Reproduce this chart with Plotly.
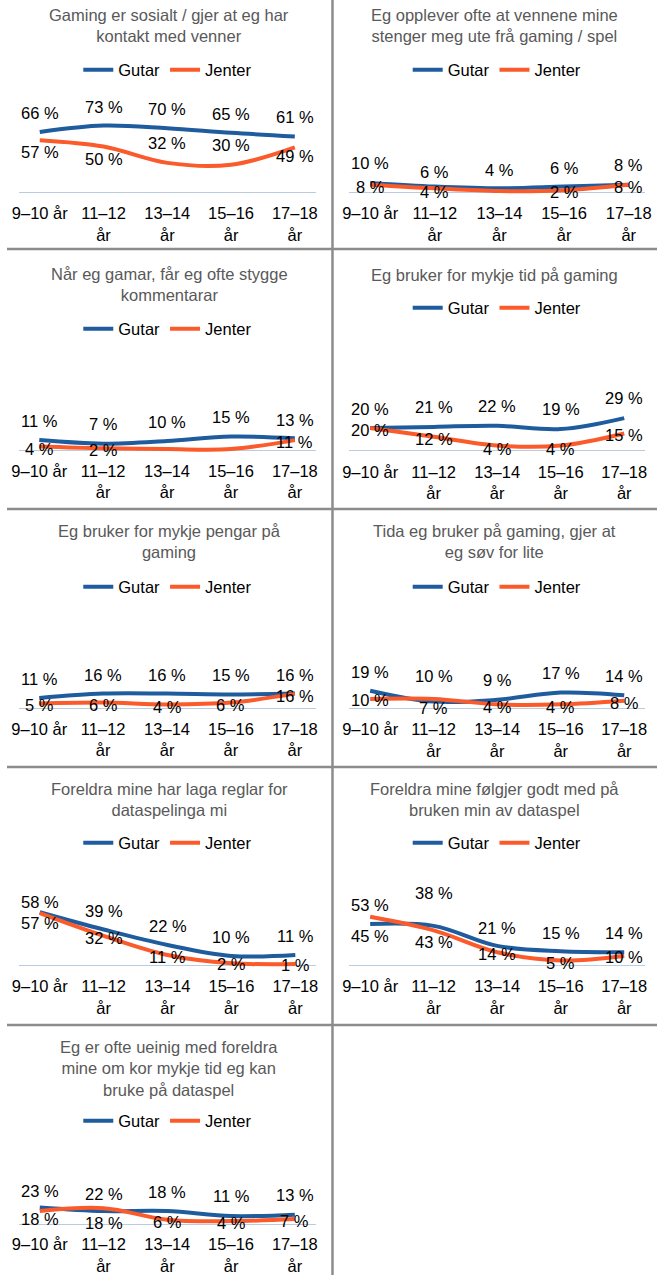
import plotly.graph_objects as go

W, H = 663, 1275

# categories and tick labels
age_groups = ["9–10 år", "11–12 år", "13–14 år", "15–16 år", "17–18 år"]
tick_labels = ["9–10 år", "11–12<br>år", "13–14<br>år", "15–16<br>år", "17–18<br>år"]

titles = [
    "Gaming er sosialt / gjer at eg har<br>kontakt med venner",
    "Eg opplever ofte at vennene mine<br>stenger meg ute frå gaming / spel",
    "Når eg gamar, får eg ofte stygge<br>kommentarar",
    "Eg bruker for mykje tid på gaming",
    "Eg bruker for mykje pengar på<br>gaming",
    "Tida eg bruker på gaming, gjer at<br>eg søv for lite",
    "Foreldra mine har laga reglar for<br>dataspelinga mi",
    "Foreldra mine følgjer godt med på<br>bruken min av dataspel",
    "Eg er ofte ueinig med foreldra<br>mine om kor mykje tid eg kan<br>bruke på dataspel",
]

# percentages per statement
gutar_sosialt = [66, 73, 70, 65, 61]
jenter_sosialt = [57, 50, 32, 30, 49]
gutar_stengt_ute = [10, 6, 4, 6, 8]
jenter_stengt_ute = [8, 4, 1, 2, 8]
gutar_kommentarar = [11, 7, 10, 15, 13]
jenter_kommentarar = [4, 2, 1, 1, 11]
gutar_tid = [20, 21, 22, 19, 29]
jenter_tid = [20, 12, 4, 4, 15]
gutar_pengar = [11, 16, 16, 15, 16]
jenter_pengar = [5, 6, 4, 6, 16]
gutar_sovn = [19, 7, 9, 17, 14]
jenter_sovn = [10, 10, 4, 4, 8]
gutar_reglar = [58, 39, 22, 10, 11]
jenter_reglar = [57, 32, 11, 2, 1]
gutar_folgjer = [45, 43, 21, 15, 14]
jenter_folgjer = [53, 38, 14, 5, 10]
gutar_ueinig = [23, 18, 18, 11, 13]
jenter_ueinig = [18, 22, 6, 4, 7]

gutar_all = [gutar_sosialt, gutar_stengt_ute, gutar_kommentarar, gutar_tid, gutar_pengar,
             gutar_sovn, gutar_reglar, gutar_folgjer, gutar_ueinig]
jenter_all = [jenter_sosialt, jenter_stengt_ute, jenter_kommentarar, jenter_tid, jenter_pengar,
              jenter_sovn, jenter_reglar, jenter_folgjer, jenter_ueinig]

# label offsets in px (positive = below the point, None = no label)
dy_gutar = [
    [-19, -19, -19, -19, -19],
    [-20, -15, -18, -19, -20],
    [-19, -20, -19, -20, -18],
    [-19, -20, -20, -20, -20],
    [-19, -19, -19, -19, -19],
    [-19, 6, -20, -20, -19],
    [-10, -19, -19, -19, -19],
    [12, 16, -18, -18, -19],
    [-16, 12, -19, -20, -20],
]
dy_jenter = [
    [12, 12, -20, -20, 9],
    [2, 4, None, 2, 2],
    [3, 2, None, None, 2],
    [2, 2, 3, 3, 2],
    [2, 2, 3, 2, 2],
    [1, -23, 3, 3, 2],
    [10, 2, 2, 1, 1],
    [-12, -37, 2, 3, 1],
    [8, -14, 2, 2, 2],
]

# panel geometry: column, baseline px, px per %, title y, legend y
geom = [
    (0, 192, 0.91, 25, 70),
    (1, 192, 0.91, 25, 70),
    (0, 450, 0.90, 284, 329),
    (1, 450, 1.10, 275, 308),
    (0, 708, 0.90, 542, 587),
    (1, 708, 0.91, 542, 587),
    (0, 965, 0.91, 799, 843),
    (1, 965, 0.91, 799, 843),
    (0, 1224, 0.72, 1068, 1121),
]

BLUE = "#1f5c9e"
ORANGE = "#fb5a2b"
FONT = "Liberation Sans, Arial, sans-serif"
FS = 16.5
YMIN = -5

x_dom = [(12, 315), (349, 651)]
col_center = [165.5, 497.5]
leg_center = [164, 500]

fig = go.Figure()
annotations = []
layout = {}

for i in range(9):
    n = i + 1
    sfx = "" if n == 1 else str(n)
    col, base, scale, ty, ly = geom[i]

    for name, vals, color, dys in (("Gutar", gutar_all[i], BLUE, dy_gutar[i]),
                                   ("Jenter", jenter_all[i], ORANGE, dy_jenter[i])):
        fig.add_trace(go.Scatter(
            x=age_groups, y=vals, name=name, mode="lines",
            line=dict(color=color, width=4, shape="spline", smoothing=1),
            xaxis="x" + sfx, yaxis="y" + sfx, legend="legend" + sfx,
            hoverinfo="skip"))
        for cat, v, dy in zip(age_groups, vals, dys):
            if dy is None:
                continue
            annotations.append(dict(
                x=cat, y=v, xref="x" + sfx, yref="y" + sfx, text=f"{v} %",
                showarrow=False, yshift=-dy, xanchor="center", yanchor="middle",
                font=dict(family=FONT, size=FS, color="black")))

    top_px = base - 100 * scale
    bot_px = base - YMIN * scale
    x0, x1 = x_dom[col]
    layout["xaxis" + sfx] = dict(
        domain=[x0 / W, x1 / W], anchor="y" + sfx, type="category",
        categoryorder="array", categoryarray=age_groups,
        tickvals=age_groups, ticktext=tick_labels, ticks="",
        showline=False, showgrid=False, zeroline=False, ticklabelstandoff=5,
        tickfont=dict(family=FONT, size=FS, color="black"), fixedrange=True)
    layout["yaxis" + sfx] = dict(
        domain=[1 - bot_px / H, 1 - top_px / H], anchor="x" + sfx,
        range=[YMIN, 100], showticklabels=False, ticks="", showgrid=False,
        showline=False, zeroline=True, zerolinecolor="#b9cce2", zerolinewidth=1,
        fixedrange=True)
    layout["legend" + sfx] = dict(
        x=leg_center[col] / W, y=1 - ly / H, xanchor="center", yanchor="middle",
        orientation="h", font=dict(family=FONT, size=FS, color="black"),
        bgcolor="rgba(0,0,0,0)", tracegroupgap=0)

    annotations.append(dict(
        x=col_center[col] / W, y=1 - ty / H, xref="paper", yref="paper",
        text=titles[i], showarrow=False, xanchor="center", yanchor="middle",
        font=dict(family=FONT, size=FS, color="#595959")))

# cell borders
shapes = []
for yb in [249, 509, 767, 1025]:
    shapes.append(dict(type="line", xref="paper", yref="paper", x0=0, x1=1,
                       y0=1 - yb / H, y1=1 - yb / H,
                       line=dict(color="#8c8c8c", width=2.5)))
shapes.append(dict(type="line", xref="paper", yref="paper", x0=332 / W, x1=332 / W,
                   y0=0, y1=1, line=dict(color="#8c8c8c", width=2.5)))

fig.update_layout(
    width=W, height=H, margin=dict(l=0, r=0, t=0, b=0),
    paper_bgcolor="white", plot_bgcolor="white",
    font=dict(family=FONT, size=FS, color="black"),
    annotations=annotations, shapes=shapes, showlegend=True,
    **layout)

# page body has an 8px default margin; remove it so the chart fills the window
fig.write_html("out.html", config={"displayModeBar": False},
               post_script="document.body.style.margin='0px';")
